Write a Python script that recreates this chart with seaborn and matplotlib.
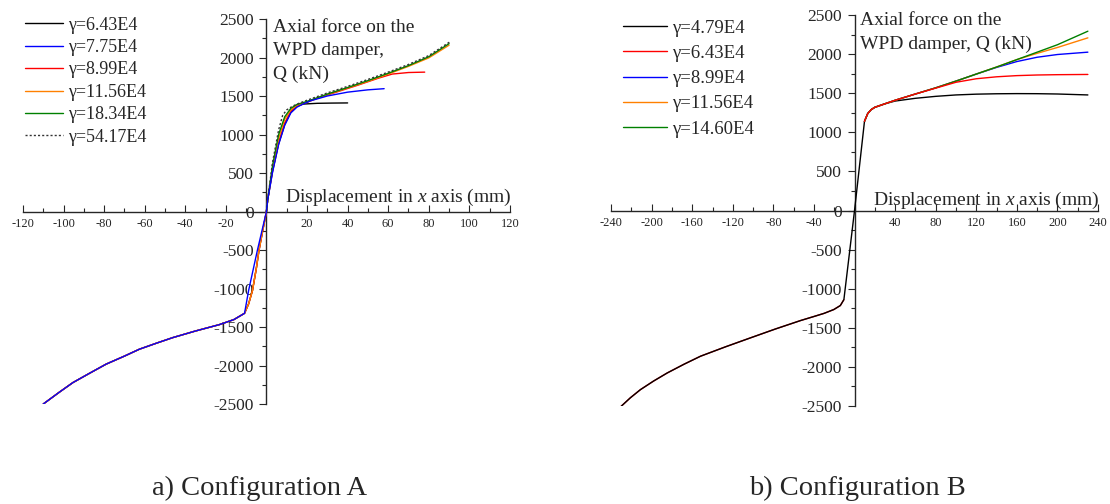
import numpy as np
import pandas as pd
import matplotlib
matplotlib.use("Agg")
import matplotlib.pyplot as plt
from matplotlib.ticker import MultipleLocator, FuncFormatter
import seaborn as sns

# ---- Configuration A (left panel) ----
# shared compressive branch
tail_A_x = [-110, -102, -95.4, -87, -79, -70, -62.6, -54, -46.2, -35, -23.2, -16, -10.8]
tail_A_y = [-2500, -2345, -2222, -2098, -1982, -1878, -1788, -1708, -1638, -1552, -1469, -1403, -1322]
knee_A_x = [-8.8, -6.9, -5, -3.7, -2, 0]
knee_A_y = [-1200, -1027, -740, -507, -270, 0]
knee_A_blue_x = [-8.8, -4.5, 0]
knee_A_blue_y = [-1027, -507, 0]

pos_A_black_x = [0.6, 3, 6, 9, 12, 15, 18, 25, 32, 40]
pos_A_black_y = [150, 520, 880, 1130, 1290, 1365, 1395, 1405, 1408, 1410]
pos_A_blue_x = [0.6, 3, 6, 9, 12, 15, 18, 22, 30, 40, 50, 58]
pos_A_blue_y = [150, 510, 870, 1120, 1280, 1355, 1395, 1440, 1500, 1550, 1580, 1595]
pos_A_red_x = [0.6, 3, 6, 9, 12, 15, 18, 25, 35, 45, 55, 62, 70, 78]
pos_A_red_y = [150, 540, 900, 1150, 1300, 1370, 1400, 1470, 1555, 1640, 1730, 1785, 1805, 1810]
pos_A_orange_x = [0.6, 3, 6, 9, 12, 15, 20, 30, 40, 50, 60, 70, 80, 90]
pos_A_orange_y = [150, 560, 950, 1200, 1320, 1380, 1420, 1520, 1605, 1690, 1785, 1885, 1995, 2160]
pos_A_green_x = [0.6, 3, 6, 9, 12, 15, 20, 30, 40, 50, 60, 70, 80, 90]
pos_A_green_y = [150, 600, 1000, 1230, 1340, 1390, 1430, 1525, 1610, 1700, 1795, 1895, 2010, 2180]
pos_A_dot_x = [0.6, 3, 6, 8, 10, 13, 16, 20, 30, 40, 50, 60, 70, 80, 90.5]
pos_A_dot_y = [150, 640, 1060, 1250, 1320, 1370, 1405, 1445, 1540, 1625, 1715, 1810, 1910, 2025, 2205]

labels_A = ["γ=6.43E4", "γ=7.75E4", "γ=8.99E4", "γ=11.56E4", "γ=18.34E4", "γ=54.17E4"]

# ---- Configuration B (right panel) ----
tail_B_x = [-230, -221, -211, -198, -184.6, -168, -151.8, -127, -102.5, -78, -53.2, -40, -30,
            -20.4, -14, -10.5, 0]
tail_B_y = [-2503, -2395, -2290, -2180, -2077, -1965, -1863, -1742, -1628, -1515, -1407, -1355,
            -1315, -1266, -1215, -1140, 0]

pos_B_x = [9.8, 13, 16.4, 20, 30, 40, 60, 80, 100, 120, 140, 160, 180, 200, 230]
pos_B_black_y = [1140, 1240, 1290, 1320, 1365, 1400, 1435, 1460, 1478, 1488, 1493, 1495, 1494, 1490, 1478]
pos_B_red_y = [1140, 1240, 1290, 1320, 1365, 1410, 1490, 1565, 1640, 1685, 1710, 1725, 1733, 1737, 1740]
pos_B_blue_y = [1140, 1240, 1290, 1320, 1365, 1410, 1490, 1569, 1655, 1745, 1830, 1905, 1960, 1995, 2025]
pos_B_orange_y = [1140, 1240, 1290, 1320, 1365, 1410, 1490, 1569, 1655, 1745, 1835, 1930, 2010, 2085, 2208]
pos_B_green_y = [1140, 1240, 1290, 1320, 1365, 1410, 1490, 1569, 1655, 1745, 1835, 1930, 2025, 2120, 2293]

labels_B = ["γ=4.79E4", "γ=6.43E4", "γ=8.99E4", "γ=11.56E4", "γ=14.60E4"]

sns.set_style("ticks")
plt.rcParams["font.family"] = ["Liberation Serif", "DejaVu Serif"]
plt.rcParams["mathtext.fontset"] = "custom"
plt.rcParams["mathtext.rm"] = "Liberation Serif"
plt.rcParams["mathtext.it"] = "Liberation Serif:italic"
plt.rcParams["axes.unicode_minus"] = False

fig = plt.figure(figsize=(11.1, 5.04), dpi=100)
axA = fig.add_axes([0.0207, 0.1984, 0.4387, 0.7639])
axB = fig.add_axes([0.5505, 0.1944, 0.4387, 0.7758])


def draw(ax, xs, ys, color, label=None, ls="-", z=2):
    sns.lineplot(x=xs, y=ys, ax=ax, color=color, linestyle=ls, lw=1.0,
                 sort=False, estimator=None, label=label, zorder=z)


# left panel curves
draw(axA, tail_A_x + knee_A_x + pos_A_black_x, tail_A_y + knee_A_y + pos_A_black_y, "black", labels_A[0], z=2)
draw(axA, tail_A_x + knee_A_blue_x + pos_A_blue_x, tail_A_y + knee_A_blue_y + pos_A_blue_y, "#0000ff", labels_A[1], z=6)
draw(axA, tail_A_x + knee_A_x + pos_A_red_x, tail_A_y + knee_A_y + pos_A_red_y, "#ff0000", labels_A[2], z=3)
draw(axA, tail_A_x + knee_A_x + pos_A_orange_x, tail_A_y + knee_A_y + pos_A_orange_y, "#ff8000", labels_A[3], z=3)
draw(axA, [0] + pos_A_green_x, [0] + pos_A_green_y, "#008000", labels_A[4], z=4)
draw(axA, [0] + pos_A_dot_x, [0] + pos_A_dot_y, "#333333", labels_A[5], ls=(0, (1.5, 1.5)), z=5)

# right panel curves
draw(axB, tail_B_x + pos_B_x, tail_B_y + pos_B_black_y, "black", labels_B[0], z=3)
draw(axB, tail_B_x[:-1], tail_B_y[:-1], "#ff0000", None, z=2)
draw(axB, pos_B_x, pos_B_red_y, "#ff0000", labels_B[1], z=6)
draw(axB, pos_B_x, pos_B_blue_y, "#0000ff", labels_B[2], z=4)
draw(axB, pos_B_x, pos_B_orange_y, "#ff8000", labels_B[3], z=4)
draw(axB, pos_B_x, pos_B_green_y, "#008000", labels_B[4], z=5)


def style(ax, lim, major, minor):
    ax.set_xlim(-lim, lim)
    ax.set_ylim(-2500, 2500)
    ax.set_xlabel("")
    ax.set_ylabel("")
    for s in ["top", "right"]:
        ax.spines[s].set_visible(False)
    ax.spines["left"].set_position(("data", 0))
    ax.spines["bottom"].set_position(("data", 0))
    for s in ["left", "bottom"]:
        ax.spines[s].set_linewidth(1.0)
    ax.set_xticks(np.arange(-lim, lim + 1, major))
    ax.xaxis.set_minor_locator(MultipleLocator(minor))
    ax.xaxis.set_major_formatter(FuncFormatter(lambda v, p: "" if v == 0 else f"{v:g}"))
    ax.set_yticks(np.arange(-2500, 2501, 500))
    ax.yaxis.set_minor_locator(MultipleLocator(250))
    ax.yaxis.set_major_formatter(FuncFormatter(lambda v, p: f"{v:g}"))
    ax.tick_params(axis="x", which="both", direction="in", labelsize=9, pad=4.5, width=0.8)
    ax.tick_params(axis="x", which="major", length=5)
    ax.tick_params(axis="x", which="minor", length=3)
    ax.tick_params(axis="y", which="both", direction="out", labelsize=12.5, pad=4, width=0.8)
    ax.tick_params(axis="y", which="major", length=5)
    ax.tick_params(axis="y", which="minor", length=3)
    ax.set_facecolor("none")


style(axA, 120, 20, 10)
style(axB, 240, 40, 20)

axA.legend(loc="upper left", bbox_to_anchor=(0.0225, 0.967), bbox_transform=fig.transFigure,
           frameon=False, fontsize=13, handlelength=2.1, handletextpad=0.3,
           labelspacing=0.3, borderpad=0, borderaxespad=0)
axB.legend(loc="upper left", bbox_to_anchor=(0.561, 0.961), bbox_transform=fig.transFigure,
           frameon=False, fontsize=13.5, handlelength=2.35, handletextpad=0.3,
           labelspacing=0.43, borderpad=0, borderaxespad=0)

fig.text(0.246, 0.963, "Axial force on the\nWPD damper,\nQ (kN)", fontsize=14,
         ha="left", va="top", linespacing=1.5)
fig.text(0.7748, 0.976, "Axial force on the\nWPD damper, Q (kN)", fontsize=14,
         ha="left", va="top", linespacing=1.5)
fig.text(0.461, 0.609, "Displacement in $x$ axis (mm)", fontsize=14, ha="right", va="center")
fig.text(0.991, 0.603, "Displacement in $x$ axis (mm)", fontsize=14, ha="right", va="center")

fig.text(0.234, 0.03, "a) Configuration A", fontsize=20.5, ha="center", va="center")
fig.text(0.772, 0.03, "b) Configuration B", fontsize=20.5, ha="center", va="center")

fig.savefig("out.png", dpi=100)
